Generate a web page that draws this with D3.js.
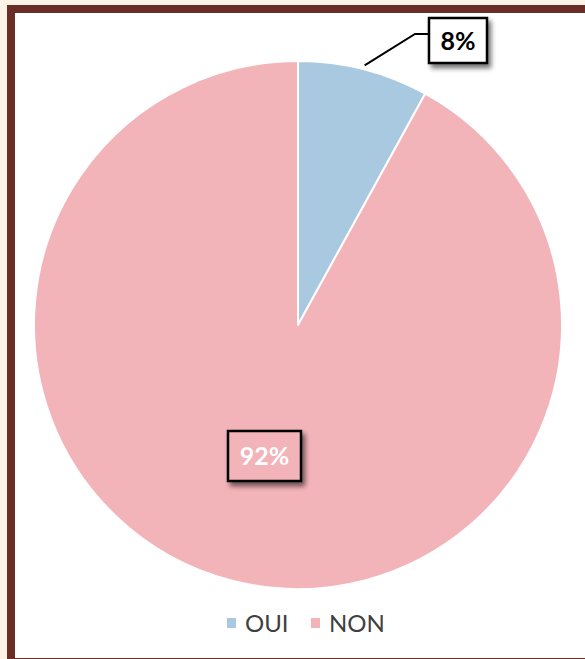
<!DOCTYPE html>
<html><head><meta charset="utf-8">
<script src="https://cdn.jsdelivr.net/npm/d3@7/dist/d3.min.js"></script>
<style>html,body{margin:0;padding:0;background:#fcf3e6;}svg{display:block;}</style>
</head><body>
<script>
const categories = ["OUI", "NON"];
const values = [8, 92];
const labels = ["8%", "92%"];
const colors = ["#a9c9e1", "#f2b3b9"];

const W = 585, H = 659;
const svg = d3.select("body").append("svg").attr("width", W).attr("height", H);
const defs = svg.append("defs");
const f = defs.append("filter").attr("id","sh").attr("x","-30%").attr("y","-30%").attr("width","170%").attr("height","170%");
f.append("feGaussianBlur").attr("in","SourceAlpha").attr("stdDeviation",2.5);
f.append("feOffset").attr("dx",3).attr("dy",4).attr("result","o");
f.append("feComponentTransfer").append("feFuncA").attr("type","linear").attr("slope",0.55);
const m = f.append("feMerge"); m.append("feMergeNode"); m.append("feMergeNode").attr("in","SourceGraphic");

svg.append("rect").attr("width",W).attr("height",H).attr("fill","#fcf3e6");
svg.append("rect").attr("x",7).attr("y",5).attr("width",620).attr("height",700).attr("fill","#6b2e27");
svg.append("rect").attr("x",15).attr("y",13).attr("width",620).attr("height",645).attr("fill","#ffffff");

const cx = 298, cy = 325, r = 264;
const pie = d3.pie().sort(null).value(d => d)(values);
const arc = d3.arc().innerRadius(0).outerRadius(r);
const g = svg.append("g").attr("transform", `translate(${cx},${cy})`);
g.selectAll("path").data(pie).join("path")
  .attr("d", arc).attr("fill", (d,i) => colors[i])
  .attr("stroke", "#fff").attr("stroke-width", 2).attr("stroke-linejoin","round");

const font = "Lato, 'Open Sans', sans-serif";
const a0 = (pie[0].startAngle + pie[0].endAngle)/2;
const p0 = [Math.sin(a0)*(r+4), -Math.cos(a0)*(r+4)];
g.append("polyline")
  .attr("points", [[p0[0], p0[1]], [117, -291], [130, -291]].map(p=>p.join(",")).join(" "))
  .attr("fill","none").attr("stroke","#000").attr("stroke-width",2);
function box(x, y, w, h, fill, txt, tcol){
  g.append("rect").attr("x",x).attr("y",y).attr("width",w).attr("height",h)
    .attr("fill",fill).attr("stroke","#000").attr("stroke-width",2.5).attr("filter","url(#sh)");
  g.append("text").attr("x",x+w/2).attr("y",y+h/2+9).attr("text-anchor","middle")
    .attr("font-family",font).attr("font-weight","bold").attr("font-size",25)
    .attr("fill",tcol).text(txt);
}
box(131, -307, 58, 45, "#fff", labels[0], "#000");
box(-70, 106, 73, 50, colors[1], labels[1], "#fff");

const lg = svg.append("g").attr("font-family", font).attr("font-size", 24).attr("fill","#404040");
const lx = [227, 311];
categories.forEach((c,i)=>{
  lg.append("rect").attr("x",lx[i]).attr("y",618).attr("width",9).attr("height",10).attr("fill",colors[i]);
  lg.append("text").attr("x",lx[i]+18).attr("y",632).text(c);
});
</script>
</body></html>
